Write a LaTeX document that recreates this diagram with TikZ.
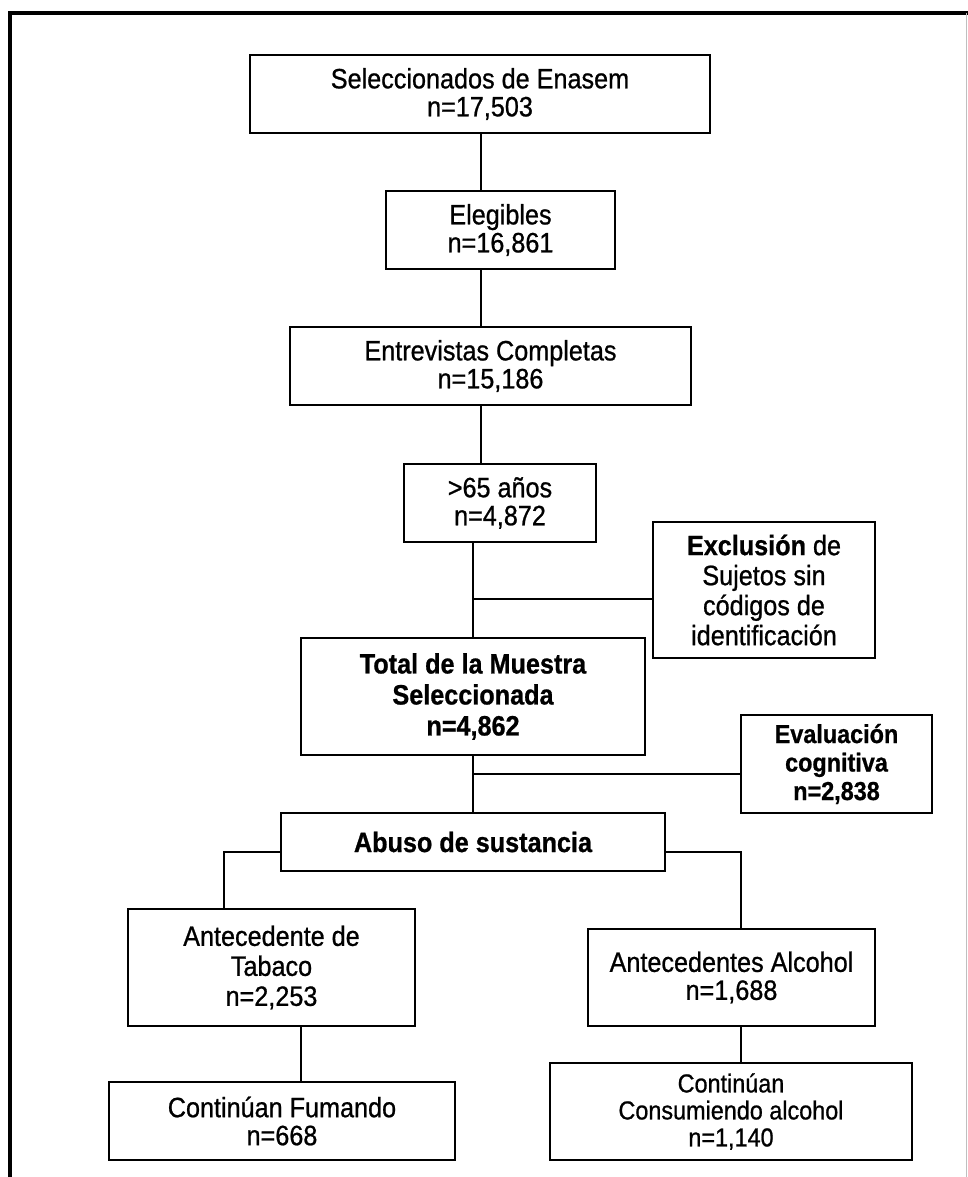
\documentclass[tikz,border=0pt]{standalone}
\usepackage{fontspec}
\setmainfont{Liberation Sans}[FakeStretch=0.9,
  UprightFeatures={FakeBold=0.8}, BoldFeatures={FakeBold=0.8}]
\usepackage{tikz}

\begin{document}
\begin{tikzpicture}[x=1pt, y=-1pt,
  caja/.style={draw, line width=2.2pt, align=center, inner sep=0pt,
    font=\fontsize{28}{28}\selectfont},
  cajachica/.style={caja, font=\fontsize{26}{27}\selectfont},
  linea/.style={line width=1.8pt}]
\useasboundingbox (0,0) rectangle (968,1177);
%marco
  \draw[line width=4pt] (10,1177) -- (10,13) -- (968,13);
  \draw[line width=0.8pt, black!25] (966,13) -- (966,1177);

%cajas
  \node[caja, minimum width=460, minimum height=78, font=\fontsize{28}{28}\selectfont] (sel) at (480,94)
    {Seleccionados de Enasem\\n=17,503};
  \node[caja, minimum width=229, minimum height=78] (eleg) at (500.5,230)
    {Elegibles\\n=16,861};
  \node[caja, minimum width=401, minimum height=78] (entr) at (490.5,366)
    {Entrevistas Completas\\n=15,186};
  \node[caja, minimum width=192, minimum height=78] (mayores) at (500,503)
    {>65 años\\n=4,872};
  \node[caja, minimum width=222, minimum height=136, font=\fontsize{28}{30}\selectfont] (excl) at (764,590)
    {\textbf{Exclusión} de\\Sujetos sin\\códigos de\\identificación};
  \node[caja, minimum width=344, minimum height=117, font=\fontsize{28}{31}\selectfont\bfseries] (total) at (473,696.5)
    {Total de la Muestra\\Seleccionada\\n=4,862};
  \node[cajachica, minimum width=191, minimum height=98, font=\fontsize{26}{28.5}\selectfont\bfseries] (eval) at (836.5,764)
    {Evaluación\\cognitiva\\n=2,838};
  \node[caja, minimum width=384, minimum height=58, font=\fontsize{28}{30}\selectfont\bfseries] (abuso) at (473,842)
    {Abuso de sustancia};
  \node[caja, minimum width=287, minimum height=117, font=\fontsize{28}{30}\selectfont] (tabaco) at (271.5,967.5)
    {Antecedente de\\Tabaco\\n=2,253};
  \node[caja, minimum width=287, minimum height=97] (alcohol) at (731.5,977.5)
    {Antecedentes Alcohol\\n=1,688};
  \node[caja, minimum width=346, minimum height=78] (fumando) at (282,1121)
    {Continúan Fumando\\n=668};
  \node[cajachica, minimum width=362, minimum height=97] (consumo) at (731,1111.5)
    {Continúan\\Consumiendo alcohol\\n=1,140};

%puntos de union
  \coordinate (c1) at (481,0);
  \coordinate (c2) at (473,599);
  \coordinate (c3) at (473,774);
  \coordinate (c4) at (224,852);
  \coordinate (c5) at (741,852);
  \coordinate (c6) at (301,0);

%lineas
  \draw[linea] (c1 |- sel.south) -- (c1 |- eleg.north);
  \draw[linea] (c1 |- eleg.south) -- (c1 |- entr.north);
  \draw[linea] (c1 |- entr.south) -- (c1 |- mayores.north);
  \draw[linea] (c2 |- mayores.south) -- (c2 |- total.north);
  \draw[linea] (c2) -- (c2 -| excl.west);
  \draw[linea] (c3 |- total.south) -- (c3 |- abuso.north);
  \draw[linea] (c3) -- (c3 -| eval.west);
  \draw[linea] (c4 -| abuso.west) -- (c4) -- (c4 |- tabaco.north);
  \draw[linea] (c5 -| abuso.east) -- (c5) -- (c5 |- alcohol.north);
  \draw[linea] (c6 |- tabaco.south) -- (c6 |- fumando.north);
  \draw[linea] (c5 |- alcohol.south) -- (c5 |- consumo.north);
\end{tikzpicture}
\end{document}
